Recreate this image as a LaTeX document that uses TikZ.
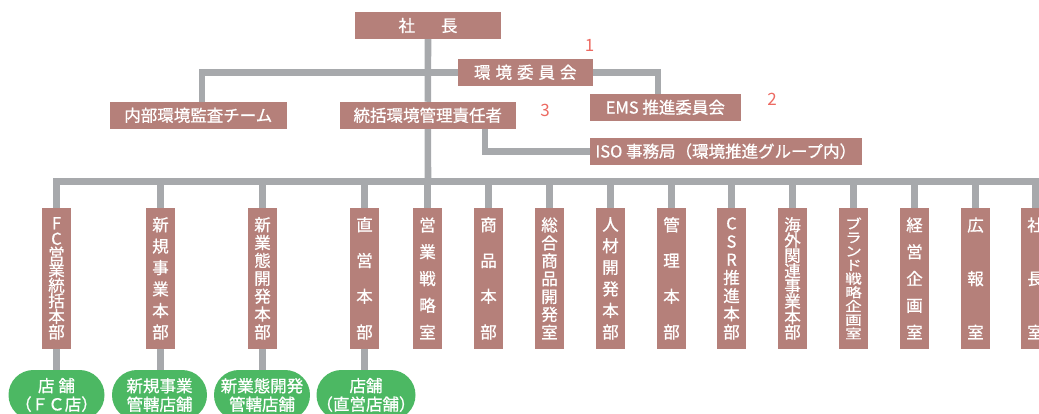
\documentclass[tikz,border=0pt]{standalone}
\usepackage{fontspec}
\usepackage{graphicx}
\setmainfont{Noto Sans CJK JP}[RawFeature={embolden=0.8}]
\newfontfamily\numfont{Noto Sans CJK JP}
\usetikzlibrary{backgrounds}
\definecolor{boxc}{HTML}{B5807A}
\definecolor{linec}{HTML}{A7A9AC}
\definecolor{greenc}{HTML}{4CB863}
\definecolor{numc}{HTML}{EC6A62}
\newcommand\vs{\par\vfill}
\newcommand\vt[1]{\parbox[c][121pt][s]{28pt}{\centering\baselineskip=0pt\lineskip=0pt\lineskiplimit=-\maxdimen #1}}
\newcommand\sy[1]{\scalebox{1}[0.8]{#1}}
\begin{document}
\begin{tikzpicture}[x=1pt,y=-1pt,
  hbox/.style={fill=boxc,text=white,inner sep=0pt,minimum height=26.7pt,font=\fontsize{16.5}{19}\selectfont},
  vbox/.style={fill=boxc,text=white,inner sep=0pt,minimum width=29pt,minimum height=141.3pt,font=\fontsize{16.5}{0}\selectfont},
  shop/.style={fill=greenc,text=white,inner sep=0pt,minimum width=96pt,minimum height=50pt,rounded corners=24.9pt,align=center,font=\fontsize{16.5}{18.5}\selectfont},
  conn/.style={draw=linec,line width=6.6pt},
  num/.style={text=numc,font=\numfont\fontsize{17}{20}\selectfont}]
\useasboundingbox (0,0) rectangle (1039,413);
\clip (0,0) rectangle (1039,413);
% top part
\node[hbox,minimum width=146pt] (pres) at (428,25.5) {社\hspace{26pt}長};
\node[hbox,minimum width=134.7pt] (comm) at (525.3,72.3) {環\hspace{5pt}境\hspace{5pt}委\hspace{5pt}員\hspace{5pt}会};
\node[hbox,minimum width=176.7pt] (audit) at (198.3,115.3) {内部環境監査チーム};
\node[hbox,minimum width=175.7pt] (mgr) at (427.8,115.3) {統括環境管理責任者};
\node[hbox,minimum width=150.7pt] (ems) at (665.3,107.3) {EMS 推進委員会};
\node[hbox,minimum width=271.7pt] (iso) at (725.8,151.2) {ISO 事務局（環境推進グループ内）};
\node[num] (n1) at (589.5,45) {1};
\node[num] (n2) at (772,99.5) {2};
\node[num] (n3) at (545,110.5) {3};
% departments
\node[vbox] (d1) at (56.5,278.35) {\vt{F\vs C\vs 営\vs 業\vs 統\vs 括\vs 本\vs 部}};
\node[vbox] (d2) at (160.5,278.35) {\vt{新\vs 規\vs 事\vs 業\vs 本\vs 部}};
\node[vbox] (d3) at (262.5,278.35) {\vt{新\vs 業\vs 態\vs 開\vs 発\vs 本\vs 部}};
\node[vbox] (d4) at (364.5,278.35) {\vt{直\vs 営\vs 本\vs 部}};
\node[vbox] (d5) at (427.5,278.35) {\vt{営\vs 業\vs 戦\vs 略\vs 室}};
\node[vbox] (d6) at (488.5,278.35) {\vt{商\vs 品\vs 本\vs 部}};
\node[vbox] (d7) at (549.5,278.35) {\vt{総\vs 合\vs 商\vs 品\vs 開\vs 発\vs 室}};
\node[vbox] (d8) at (610.5,278.35) {\vt{人\vs 材\vs 開\vs 発\vs 本\vs 部}};
\node[vbox] (d9) at (671.5,278.35) {\vt{管\vs 理\vs 本\vs 部}};
\node[vbox] (d10) at (731.5,278.35) {\vt{C\vs S\vs R\vs 推\vs 進\vs 本\vs 部}};
\node[vbox] (d11) at (792.5,278.35) {\vt{海\vs 外\vs 関\vs 連\vs 事\vs 業\vs 本\vs 部}};
\node[vbox] (d12) at (853.5,278.35) {\vt{\sy{ブ}\vs \sy{ラ}\vs \sy{ン}\vs \sy{ド}\vs \sy{戦}\vs \sy{略}\vs \sy{企}\vs \sy{画}\vs \sy{室}}};
\node[vbox] (d13) at (914.5,278.35) {\vt{経\vs 営\vs 企\vs 画\vs 室}};
\node[vbox] (d14) at (975.5,278.35) {\vt{広\vs 報\vs 室}};
\node[vbox] (d15) at (1035.5,278.35) {\vt{社\vs 長\vs 室}};
% shops
\node[shop] (s1) at (56.5,395) {店\hspace{4pt}舗\\（ＦＣ店）};
\node[shop,minimum width=95pt] (s2) at (159.5,395) {新規事業\\管轄店舗};
\node[shop] (s3) at (262,395) {新業態開発\\管轄店舗};
\node[shop,minimum width=95pt] (s4) at (366,395) {店舗\\（直営店舗）};
% connectors
\begin{scope}[on background layer]
\draw[conn] (pres.south) -- (mgr.north);
\draw[conn] ([xshift=3.7pt]audit.north) |- (comm.west);
\draw[conn] (comm.east) -| ([xshift=-7.3pt]ems.north);
\draw[conn] ([xshift=57.2pt]mgr.south) |- (iso.west);
\coordinate (bus) at (428,181.5);
\draw[conn] (mgr.south) -- (bus);
\draw[conn] (d1.north) -- (d1.north |- bus) -- (d15.north |- bus) -- (d15.north);
\foreach \i in {2,...,14} \draw[conn] (d\i.north) -- (d\i.north |- bus);
\foreach \i in {1,...,4} \draw[conn] (d\i.south) -- (d\i.south |- s\i.north);
\end{scope}
\end{tikzpicture}
\end{document}
